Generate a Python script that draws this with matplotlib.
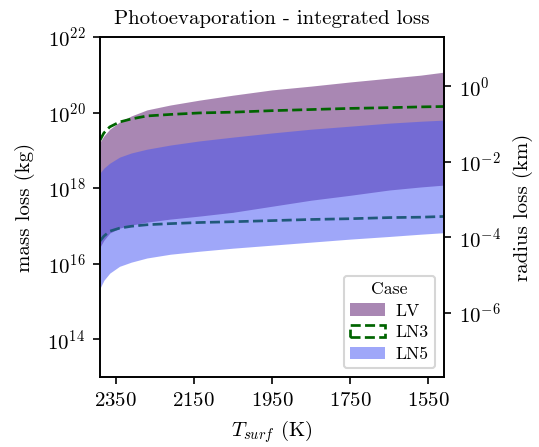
import numpy as np
import matplotlib
matplotlib.use('Agg')
import matplotlib.pyplot as plt
from matplotlib.ticker import NullLocator, FixedLocator
from matplotlib.patches import Patch

plt.rcParams['font.family'] = 'serif'
plt.rcParams['font.serif'] = ['cmr10']
plt.rcParams['mathtext.fontset'] = 'cm'
plt.rcParams['axes.formatter.use_mathtext'] = True
plt.rcParams['axes.unicode_minus'] = False
plt.rcParams['font.size'] = 10

# surface temperature (K)
T_surf = [2390, 2380, 2365, 2340, 2310, 2270, 2210, 2135, 2050, 1950,
          1850, 1750, 1650, 1570, 1510]

# log10 of integrated mass loss (kg)
LV_hi = [19.22, 19.38, 19.56, 19.75, 19.91, 20.07, 20.20, 20.33, 20.46, 20.60,
         20.70, 20.81, 20.91, 20.99, 21.07]
LV_lo = [16.44, 16.62, 16.81, 16.94, 17.02, 17.10, 17.18, 17.26, 17.36, 17.52,
         17.68, 17.81, 17.95, 18.03, 18.08]
LN3_hi = [19.27, 19.46, 19.62, 19.75, 19.83, 19.91, 19.95, 19.99, 20.01, 20.05,
          20.08, 20.11, 20.13, 20.15, 20.16]
LN3_lo = [16.60, 16.73, 16.86, 16.94, 16.99, 17.03, 17.06, 17.09, 17.11, 17.14,
          17.17, 17.19, 17.22, 17.23, 17.25]
LN5_hi = [18.40, 18.53, 18.66, 18.82, 18.93, 19.03, 19.14, 19.25, 19.35, 19.46,
          19.56, 19.64, 19.72, 19.77, 19.80]
LN5_lo = [15.35, 15.56, 15.75, 15.93, 16.04, 16.15, 16.25, 16.33, 16.41, 16.49,
          16.57, 16.65, 16.72, 16.78, 16.82]

xticks = [2350, 2150, 1950, 1750, 1550]
mass_to_radius = 5.0e20  # kg per km of radius

c_LV = (85/255, 17/255, 105/255)
c_LN5 = (65/255, 80/255, 245/255)
c_LN3 = 'darkgreen'

T = np.array(T_surf)
fig = plt.figure(figsize=(539/150, 447/150), dpi=150)
ax = fig.add_axes([100/539, 1-377/447, 344/539, 340/447])

# same zorder everywhere so drawing order decides (LN5 lies over LN3)
ax.fill_between(T, 10**np.array(LV_lo), 10**np.array(LV_hi), color=c_LV, alpha=0.5, lw=0, zorder=1)
ax.plot(T, 10**np.array(LN3_hi), c=c_LN3, ls='--', lw=1.3, zorder=1)
ax.plot(T, 10**np.array(LN3_lo), c=c_LN3, ls='--', lw=1.3, zorder=1)
ax.fill_between(T, 10**np.array(LN5_lo), 10**np.array(LN5_hi), color=c_LN5, alpha=0.5, lw=0, zorder=1)

ax.set_yscale('log')
ax.set_ylim(1e13, 1e22)
ax.set_xlim(T[0], T[-1])
ax.xaxis.set_major_locator(FixedLocator(xticks))
ax.yaxis.set_major_locator(FixedLocator([1e14, 1e16, 1e18, 1e20, 1e22]))
ax.yaxis.set_minor_locator(NullLocator())
ax.set_xlabel(r'$T_{surf}$ (K)')
ax.set_ylabel('mass loss (kg)', labelpad=6)
ax.set_title('Photoevaporation - integrated loss', fontsize=10)

ax2 = ax.twinx()
ax2.set_yscale('log')
ax2.set_ylim(1e13/mass_to_radius, 1e22/mass_to_radius)
ax2.yaxis.set_major_locator(FixedLocator([1e-6, 1e-4, 1e-2, 1e0]))
ax2.yaxis.set_minor_locator(NullLocator())
ax2.set_ylabel('radius loss (km)', labelpad=6)

handles = [Patch(facecolor=c_LV, alpha=0.5, lw=0, label='LV'),
           Patch(facecolor='none', edgecolor=c_LN3, ls='--', lw=1.3, label='LN3'),
           Patch(facecolor=c_LN5, alpha=0.5, lw=0, label='LN5')]
ax2.legend(handles=handles, title='Case', loc='lower right', fontsize=8.5, title_fontsize=8.5,
           labelspacing=0.35, borderpad=0.35, handletextpad=0.6)

fig.savefig('out.png', dpi=150)
